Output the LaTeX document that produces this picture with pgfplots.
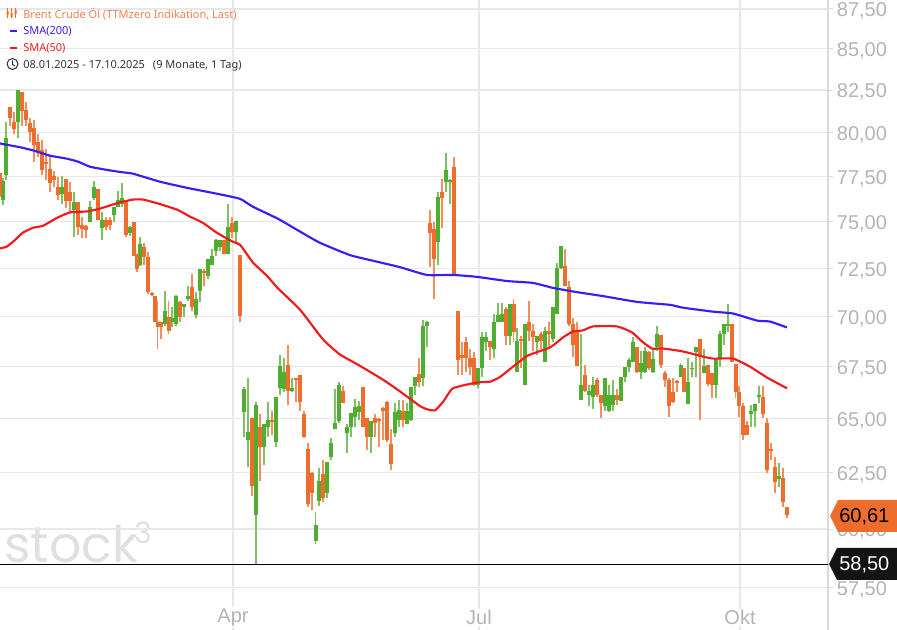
\documentclass[border=0pt]{standalone}
\usepackage{fontspec}
\setmainfont{Liberation Sans}
\newfontfamily\notos{Noto Sans}
\newfontfamily\wm{Poppins}
\usepackage{pgfplots}
\usepackage{pgfplotstable}
\pgfplotsset{compat=1.18}
\definecolor{cgreen}{HTML}{4FAD2F}
\definecolor{cgreenl}{HTML}{7DC162}
\definecolor{corange}{HTML}{EE6C2C}
\definecolor{corangel}{HTML}{F1905E}
\definecolor{cblue}{HTML}{3A1CF5}
\definecolor{cred}{HTML}{F51A1A}
\definecolor{gridc}{HTML}{E7E7EE}
\definecolor{axc}{HTML}{D9D9E6}
\definecolor{labc}{HTML}{B4B4B8}
\pgfplotstableread{
x l h b t
3 75.9 77.4 76.2 77.25
6 77.3 80.63 77.6 79.7
18 79.7 82.5 80.63 82.5
62 75.93 77.53 76.53 76.9
74 74.17 76.64 75.65 76.04
90 75 76.1 75 75.8
94 76.2 77.25 76.3 76.9
102 74 75.54 74.66 75.1
114 75 75.8 75.37 75.8
118 75.8 76.7 75.8 76.2
122 75.8 77.13 75.93 76.3
130 74.2 74.77 74.38 74.7
140 72.6 74.17 72.7 73.8
165 69.5 71.3 69.6 70.3
172 69.45 70.5 69.7 69.95
176 69.5 71.1 69.6 71.05
184 70 70.65 70.5 70.65
188 70.8 71.55 70.9 71.05
196 69.95 71.25 70.1 70.9
200 70.75 72.45 71.3 72.45
208 71.93 73 72.1 73
212 72.7 73.5 72.7 73.13
216 73.13 74.05 73.4 74
220 73.4 74 73.65 74
228 73.23 75.93 73.23 74.7
236 73.85 75.05 74.44 75.05
244 64.15 66.5 65.3 66.4
248 62.75 66.97 64 64.4
256 58.5 65.8 60.6 65.67
264 62.87 64.73 63.7 64.73
268 64.15 65.8 64.63 64.95
276 63.7 66.05 63.9 66.05
280 66.15 68.05 66.45 67.55
284 66.25 67.95 66.4 67.25
292 66.25 66.97 66.3 66.45
315.5 59.35 60.75 59.5 60.17
319 61.03 62.7 61.25 62.15
327 61.35 62.97 61.6 62.97
331 63.1 64.1 63.23 63.87
335 64.5 66.4 64.5 64.82
339 64.82 66.73 64.87 66.63
347 63.4 64.73 64.35 64.63
351 64.15 65.25 64.6 65.25
355 64.6 65.95 65.1 65.55
359 64.95 65.85 65.3 65.6
371 63.4 64.87 64.15 64.87
395 64.15 65.77 64.35 65.3
399 64.6 65.9 64.95 65.4
407 64.73 65.77 64.73 65.35
411 64.87 66.5 64.95 66.5
415 66.15 67 66.55 67
423 66.55 69.85 66.97 69.55
427 68.45 69.8 69.55 69.75
438 72.65 76.64 73.9 76.35
446 76.6 78.8 77.2 77.87
450 75.93 77.35 77.2 77.3
478 66.45 67.45 66.63 67.45
482 67 69.2 67.45 68.95
486 68.25 69.2 68.7 68.95
494 67.95 70.15 68.35 69.7
498 69.7 70.7 69.75 70.1
502 69.7 70.7 69.75 70.15
510 68.6 70.65 69 70.65
517 67.25 69.4 67.25 68.75
525 66.63 69.65 66.63 69.65
537 68.1 69 68.7 69
545 67.75 69.45 67.75 69.25
553 68.7 70.5 68.85 70.5
557 70.15 72.8 70.15 72.5
561 72.45 73.7 72.5 73.7
581 65.9 69.1 65.9 66.63
589 65.6 66.63 66.15 66.3
593 65.45 67 66.05 66.63
605 65.35 66.97 65.6 66.97
609 65.3 66.63 65.35 66.15
613 65.35 66.87 65.67 66.15
621 65.85 67 65.85 67
625 66.77 67.5 67 67.5
629 67.25 67.95 67.5 67.85
633 67.75 68.95 67.75 68.7
641 66.9 68.25 67.25 67.7
645 67.2 68.5 67.25 68.25
653 67.2 68.4 67.25 67.9
657 68.25 69.5 68.45 69.1
680.5 67 67.7 67 67.6
688 65.7 67.95 65.7 66.77
692 67 67.75 67.4 67.45
696 67 68.5 68.2 68.5
704 67.2 68.4 67.2 67.55
716 66 67.95 66.63 67.95
720 67.5 69.25 67.95 69.1
724 68.6 69.6 69.1 69.6
728 69.2 70.65 69.55 69.6
751 64.63 65.67 65.2 65.35
755 64.63 65.7 65.35 65.7
759 65.77 66.55 66.05 66.15
779 61.85 62.95 62.2 62.35
}\greentbl
\pgfplotstableread{
x l h b t
0 76.37 77.7 76.47 77.7
10 80.35 81.5 80.87 81.5
14 79.9 81.17 80.17 80.63
22 80.35 82.38 81.28 82.38
26 80.35 81.8 80.7 81.34
30 79.43 80.87 80 80.52
34 78.33 80.7 79.3 80.23
38 78.62 79.9 78.9 79.43
42 77.6 79.55 77.87 78.97
46 77.3 79.03 78.2 78.33
50 76.6 78.68 77.13 77.93
54 76.9 77.8 77.3 77.53
58 76.2 77.47 76.47 76.9
66 75.76 77.35 76.1 77.35
70 75.5 77.2 76.1 76.64
78 74.27 76.04 74.7 76.04
82 74.1 75.27 74.6 74.82
86 74.1 74.82 74.55 74.77
98 75.1 76.8 75.1 76.8
106 74.55 75.27 74.7 75.1
110 74.55 75.27 74.82 75.1
126 74.17 76.1 74.27 76.1
133.5 73.13 75 73.13 75
137 72.3 73.23 72.45 73.23
144 72.7 73.85 73.07 73.6
148 71.15 73.35 71.25 73.07
152 71.05 71.25 71.1 71.2
154.5 69.75 71.05 69.75 71.05
157.5 68.35 70.8 69.45 69.75
161 68.85 69.75 69.45 69.75
168.5 69.1 70.8 69.25 70
180 69.75 70.8 70 70.75
192 70.3 72.2 70.5 71.5
204 71.55 72.45 72.25 72.35
224 73.23 74 73.23 74
232 74.1 75.27 74.44 74.93
240 69.75 73.2 70.05 73.2
252 61.45 65.05 61.9 65.05
260 62.15 65.2 63.7 64.63
272 64.25 65.35 64.85 64.95
288 65.65 68.55 66.3 67.6
296 65.8 66.97 66.87 66.97
300 65.35 67.1 65.8 67.1
304 64.1 65.35 64.15 65.2
308 60.95 63.87 61.1 63.6
312 60.85 62.55 61.6 62.5
323 61.17 63.1 61.35 62.43
343 65.77 66.55 65.77 66.3
363 64.63 66.5 64.63 66.5
367 63.55 65.05 64.15 65.05
375 64.15 65.2 64.82 65.05
379 63.7 65.05 64.9 65
383 64 65.55 65.35 65.5
387 63.9 65.85 64 65.8
391 62.65 64.5 62.9 63.83
403 64.6 65.9 64.95 65.35
419 66.5 67.95 66.77 67.15
430 72.55 75.6 74.38 74.93
434 70.9 75 73 74.6
442 74.66 77.35 76.3 76.6
454 72.15 78.57 72.15 78
458 67.1 70.3 67.85 70.3
462 67.1 68.7 67.95 68.1
466 67.25 68.95 67.95 68.7
470 67.1 68.35 67.5 67.95
474 66.55 68.2 66.63 67.95
490 67.85 68.75 68.5 68.75
506 68.6 70.5 69 70.4
513.5 68.7 70.9 69.2 70.65
521 67.45 69 68.75 68.85
529 68.75 70.8 69.25 69.7
533 68.25 69.6 68.95 69.25
541 68.35 69.2 68.75 69.1
549 68.5 69.7 69.1 69.25
565 71.55 73.5 71.55 72.6
569 69.5 71.83 69.6 71.5
573 68 69.95 68.6 69.6
577 67.55 69.7 67.55 69.2
585 66.25 67.6 66.3 67.1
597 66.05 66.97 66.15 66.87
601 65.05 66.15 65.77 66.15
617 65.67 66.4 65.9 66.15
637 67.2 68.45 67.25 68.45
649 67.35 68.25 67.45 68.2
661 67.45 69.05 67.6 69.05
665 66.5 67.3 66.87 67.2
669 65.1 66.97 65.6 66.87
673 65.77 66.97 65.8 66.25
677 66.25 66.87 66.7 66.8
684 66.25 67.45 66.25 67.45
700 64.95 68.85 68 68.85
708 66.55 67.6 66.67 67.6
712 66 67.2 66.63 67.2
732 67.75 69.6 67.75 69.6
735.5 66 67.65 66.25 67.65
739 65.1 66.55 65.6 66.25
743 64 65.77 64.25 65.6
747 64.25 64.9 64.25 64.7
763 65.05 66.55 65.2 66.05
767 62.5 65.05 62.65 64.82
771 63.1 63.87 63.5 63.6
775 61.6 63.2 62.1 62.75
783 60.98 62.7 61.17 62.25
787 60.5 60.98 60.61 60.95
}\orangetbl
\newcommand\PX[2]{({(#1)*0.75pt},{(630-(#2))*0.75pt})}
\begin{document}
\begin{tikzpicture}[x=1pt,y=1pt]
\path[use as bounding box] (0,0) rectangle (672.75pt,472.5pt);
\node[anchor=base west,inner sep=0,text=black!12,font=\wm\fontsize{38pt}{38pt}\selectfont] at \PX{4}{563} {stock};
\node[anchor=base west,inner sep=0,text=black!12,font=\wm\fontsize{22pt}{22pt}\selectfont] at \PX{134}{544} {3};
\begin{axis}[
  at={(0,0)},anchor=south west,scale only axis,
  width=621pt,height=472.5pt,
  ymode=log,
  xmin=0,xmax=828,ymin=55.77,ymax=88.07,
  axis x line*=bottom,axis y line*=right,
  x axis line style={draw=none},
  y axis line style={draw=axc,line width=0.9pt},
  xtick={233,479,740},xticklabels={Apr,Jul,Okt},
  ytick={57.5,60,62.5,65,67.5,70,72.5,75,77.5,80,82.5,85,87.5},
  yticklabels={{57,50},{60,00},{62,50},{65,00},{67,50},{70,00},{72,50},{75,00},{77,50},{80,00},{82,50},{85,00},{87,50}},
  minor tick num=0,log ticks with fixed point,
  grid=major,grid style={draw=gridc,line width=0.95pt},
  tick style={draw=axc,line width=0.7pt},
  major tick length=3.5pt,
  tick align=outside,
  yticklabel style={font=\fontsize{15pt}{15pt}\selectfont,text=labc,anchor=west,xshift=3pt,yshift=-1.6pt,inner sep=0pt},
  xticklabel style={font=\fontsize{15pt}{15pt}\selectfont,text=labc,anchor=center,fill=white,inner sep=1pt,yshift=13pt},
  clip=true,
]
\addplot[draw=none,forget plot,error bars/.cd,y dir=plus,y explicit,error mark=none,
  error bar style={draw=cgreenl,line width=1.4pt}]
  table[x=x,y=l,y error plus expr=\thisrow{h}-\thisrow{l}] {\greentbl};
\addplot[draw=none,forget plot,error bars/.cd,y dir=plus,y explicit,error mark=none,
  error bar style={draw=corangel,line width=1.4pt}]
  table[x=x,y=l,y error plus expr=\thisrow{h}-\thisrow{l}] {\orangetbl};
\addplot[draw=none,forget plot,error bars/.cd,y dir=plus,y explicit,error mark=none,
  error bar style={draw=cgreen,line width=3pt}]
  table[x=x,y=b,y error plus expr=\thisrow{t}-\thisrow{b}] {\greentbl};
\addplot[draw=none,forget plot,error bars/.cd,y dir=plus,y explicit,error mark=none,
  error bar style={draw=corange,line width=3pt}]
  table[x=x,y=b,y error plus expr=\thisrow{t}-\thisrow{b}] {\orangetbl};
\addplot[cblue,line width=1.6pt,smooth,tension=0.3] coordinates {(0,79.37)(20,79.15)(33,78.97)(50,78.68)(67,78.5)(78,78.33)(90,78.05)(107,77.87)(120,77.75)(133,77.65)(160,77.2)(187,76.85)(217,76.53)(240,76.25)(253,75.8)(278,75.15)(300,74.45)(320,73.85)(350,73.2)(375,72.87)(400,72.55)(427,72.15)(453,72.15)(477,72.05)(507,71.83)(533,71.73)(553,71.47)(577,71.25)(603,71.05)(637,70.75)(670,70.6)(683,70.45)(713,70.25)(733,70.15)(757,69.8)(770,69.75)(787,69.45)};
\addplot[cred,line width=1.6pt,smooth,tension=0.3] coordinates {(0,73.55)(7,73.65)(15,74)(23,74.4)(33,74.66)(43,74.77)(57,75.2)(70,75.5)(87,75.55)(100,75.7)(117,76)(133,76.2)(143,76.2)(157,76)(177,75.65)(190,75.27)(203,74.93)(217,74.38)(233,73.9)(240,73.75)(253,72.8)(267,72.1)(278,71.45)(300,70.35)(323,68.85)(340,68.1)(358,67.6)(383,66.87)(400,66.3)(420,65.6)(427,65.45)(435,65.4)(443,65.8)(453,66.45)(477,66.73)(490,66.77)(500,67)(513,67.5)(528,68.05)(550,68.45)(563,68.95)(573,69.25)(583,69.3)(593,69.5)(617,69.5)(632,69.2)(642,68.75)(652,68.4)(663,68.4)(683,68.25)(703,68)(713,67.9)(733,67.9)(750,67.5)(767,66.97)(787,66.45)};
\addplot[black,line width=0.6pt] coordinates {(0,58.5)(828,58.5)};
\end{axis}
% price tags
\fill[corange] \PX{830}{516} -- \PX{838}{500} -- \PX{897}{500} -- \PX{897}{532} -- \PX{838}{532} -- cycle;
\node[anchor=west,inner sep=0,text=black,font=\fontsize{15pt}{15pt}\selectfont] at \PX{839}{516.5} {60,61};
\fill[black!92] \PX{829}{564} -- \PX{837}{548} -- \PX{897}{548} -- \PX{897}{580} -- \PX{837}{580} -- cycle;
\node[anchor=west,inner sep=0,text=white,font=\fontsize{15pt}{15pt}\selectfont] at \PX{839}{564.5} {58,50};
% legend
\begin{scope}[font=\notos\fontsize{8.25pt}{8.5pt}\selectfont]
\node[anchor=base west,inner sep=0,text=corange!85!white] at \PX{23}{18.5} {Brent Crude Öl (TTMzero Indikation, Last)};
\node[anchor=base west,inner sep=0,text=cblue] at \PX{23}{35} {SMA(200)};
\node[anchor=base west,inner sep=0,text=cred] at \PX{23}{52} {SMA(50)};
\node[anchor=base west,inner sep=0,text=black!80] at \PX{23}{68.5} {08.01.2025 - 17.10.2025\hspace{6pt}(9 Monate, 1 Tag)};
\end{scope}
\draw[corange,line width=0.7pt] \PX{7.5}{8} -- \PX{7.5}{18} \PX{11.5}{8} -- \PX{11.5}{18} \PX{15.5}{8} -- \PX{15.5}{18};
\fill[corange] \PX{6.5}{11} rectangle \PX{8.5}{15} \PX{10.5}{13} rectangle \PX{12.5}{17} \PX{14.5}{10} rectangle \PX{16.5}{14};
\draw[cblue,line width=1.5pt] \PX{10}{31} -- \PX{17}{31};
\draw[cred,line width=1.5pt] \PX{10}{48} -- \PX{17}{48};
\draw[black!85,line width=0.7pt] \PX{12.5}{64} circle (4.1pt);
\draw[black!85,line width=0.7pt] \PX{12.5}{60.5} -- \PX{12.5}{64.5} -- \PX{15}{66};
\end{tikzpicture}
\end{document}
